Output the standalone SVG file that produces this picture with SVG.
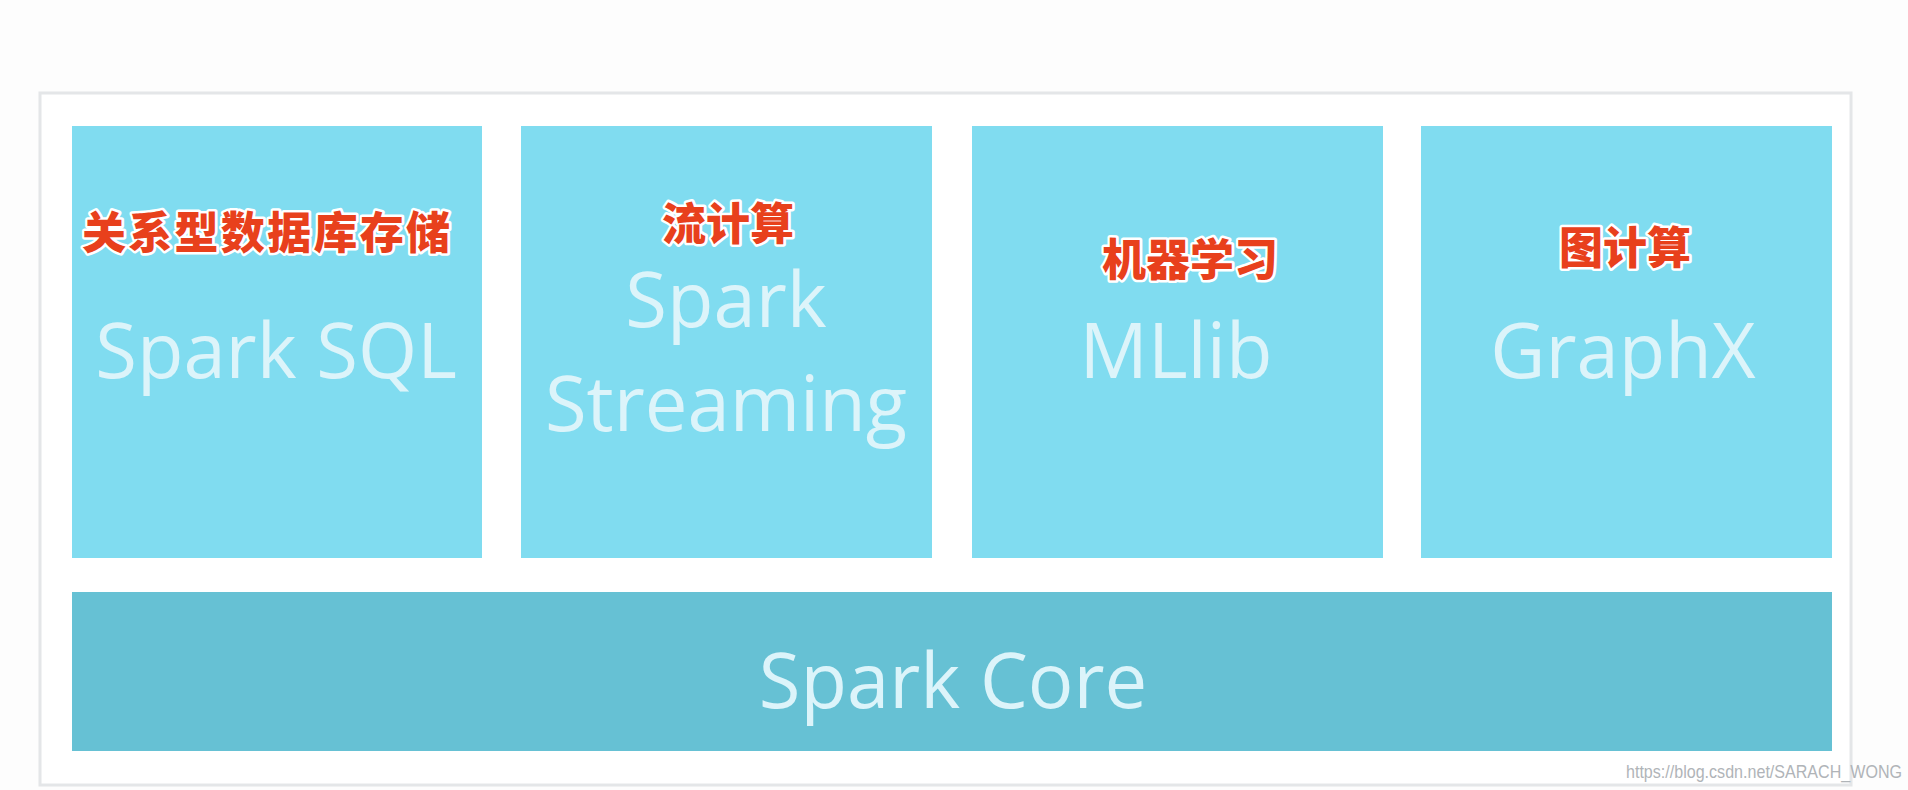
<svg xmlns="http://www.w3.org/2000/svg" width="1908" height="790" viewBox="0 0 1908 790">
<style>
.box{fill:#80dcf0}
.core{fill:#66c1d4}
.en{font-family:"Open Sans","Noto Sans",sans-serif;font-weight:400;fill:#dcf4fa;text-anchor:middle}
.zh{font-family:"Noto Sans CJK SC",sans-serif;font-weight:900;font-size:44px;fill:#e8401c;stroke:#ffffff;stroke-width:5;paint-order:stroke;stroke-linejoin:round}
.wm{font-family:"Liberation Sans",Arial,sans-serif;font-size:19px;fill:#b0b4b8}
</style>
<rect width="1908" height="790" fill="#fdfdfd"/>
<rect x="40" y="93" width="1811" height="692" fill="#ffffff" stroke="#e4e6e8" stroke-width="3"/>
<g id="spark-sql">
<rect class="box" x="72" y="126" width="410" height="432"/>
<text class="zh" x="82" y="249" textLength="368">关系型数据库存储</text>
<text class="en" x="276" y="378" font-size="76">Spark SQL</text>
</g>
<g id="spark-streaming">
<rect class="box" x="521" y="126" width="411" height="432"/>
<text class="zh" x="728" y="240" text-anchor="middle">流计算</text>
<text class="en" x="726" y="327" font-size="76">Spark</text>
<text class="en" x="726" y="431" font-size="76">Streaming</text>
</g>
<g id="mllib">
<rect class="box" x="972" y="126" width="411" height="432"/>
<text class="zh" x="1190" y="276" text-anchor="middle">机器学习</text>
<text class="en" x="1176" y="378" font-size="76">MLlib</text>
</g>
<g id="graphx">
<rect class="box" x="1421" y="126" width="411" height="432"/>
<text class="zh" x="1625" y="264" text-anchor="middle">图计算</text>
<text class="en" x="1623" y="378" font-size="76">GraphX</text>
</g>
<g id="spark-core">
<rect class="core" x="72" y="592" width="1760" height="159"/>
<text class="en" x="953" y="708" font-size="76">Spark Core</text>
</g>
<g id="connectors"/>
<text class="wm" x="1626" y="778" textLength="276" lengthAdjust="spacingAndGlyphs">https://blog.csdn.net/SARACH_WONG</text>
</svg>
